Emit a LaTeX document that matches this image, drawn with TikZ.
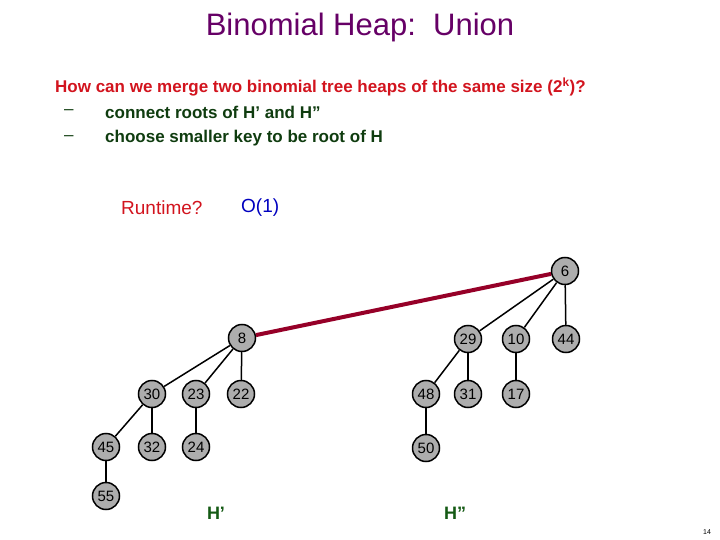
\documentclass[tikz,border=0pt]{standalone}
\usepackage{fontspec}
\setmainfont{Liberation Sans}
\begin{document}
\begin{tikzpicture}[x=1pt,y=-1pt,
  hn/.style={circle,draw=black,line width=1.5pt,fill=black!32,minimum size=27pt,inner sep=0pt,font=\fontsize{15}{15}\selectfont},
  ed/.style={line width=1.5pt},
  lbl/.style={anchor=west,inner sep=0pt}]
\useasboundingbox (0,0) rectangle (720,540);
\definecolor{ttl}{RGB}{102,0,102}
\definecolor{qred}{RGB}{210,20,30}
\definecolor{dgreen}{RGB}{15,60,15}
\definecolor{hgreen}{RGB}{20,90,20}
\definecolor{link}{RGB}{150,0,40}
\node[inner sep=0pt,text=ttl,font=\fontsize{31}{31}\selectfont] (title) at (360,27) {Binomial Heap:\ \ Union};
\node[lbl,text=qred,font=\bfseries\fontsize{17}{17}\selectfont] (q) at (55,87) {How can we merge two binomial tree heaps of the same size (2\textsuperscript{k})?};
\node[lbl,text=dgreen,font=\fontsize{17}{17}\selectfont] (d1) at (64,112) {–};
\node[lbl,text=dgreen,font=\bfseries\fontsize{17}{17}\selectfont] (b1) at (105,112) {connect roots of H' and H"};
\node[lbl,text=dgreen,font=\fontsize{17}{17}\selectfont] (d2) at (64,138) {–};
\node[lbl,text=dgreen,font=\bfseries\fontsize{17}{17}\selectfont] (b2) at (105,138) {choose smaller key to be root of H};
\node[lbl,text=qred,font=\fontsize{19}{19}\selectfont] (rt) at (121,208) {Runtime?};
\node[lbl,text=blue!75!black,font=\fontsize{19}{19}\selectfont] (o1) at (241,208) {O(1)};
\node[hn] (n6) at (565,271) {6};
\node[hn] (n8) at (242,338) {8};
\node[hn] (n29) at (468,339) {29};
\node[hn] (n10) at (516,339) {10};
\node[hn] (n44) at (566,339) {44};
\node[hn] (n30) at (152,394) {30};
\node[hn] (n23) at (196,394) {23};
\node[hn] (n22) at (241,394) {22};
\node[hn] (n48) at (426,394) {48};
\node[hn] (n31) at (468,394) {31};
\node[hn] (n17) at (516,394) {17};
\node[hn] (n45) at (106,447) {45};
\node[hn] (n32) at (152,447) {32};
\node[hn] (n24) at (196,447) {24};
\node[hn] (n50) at (426,448) {50};
\node[hn] (n55) at (106,496) {55};
\node[text=hgreen,font=\bfseries\fontsize{18}{18}\selectfont] (hp) at (216,513) {H'};
\node[text=hgreen,font=\bfseries\fontsize{18}{18}\selectfont] (hpp) at (455,513) {H"};
\node[font=\fontsize{7}{7}\selectfont] (pg) at (707,532) {14};
\draw[line width=4pt,link] (n8) -- (n6);
\foreach \a/\b in {n6/n29,n6/n10,n6/n44,n8/n30,n8/n23,n8/n22,n29/n48,n29/n31,n10/n17,n30/n45,n30/n32,n23/n24,n48/n50,n45/n55}
  \draw[ed] (\a) -- (\b);
\end{tikzpicture}
\end{document}
